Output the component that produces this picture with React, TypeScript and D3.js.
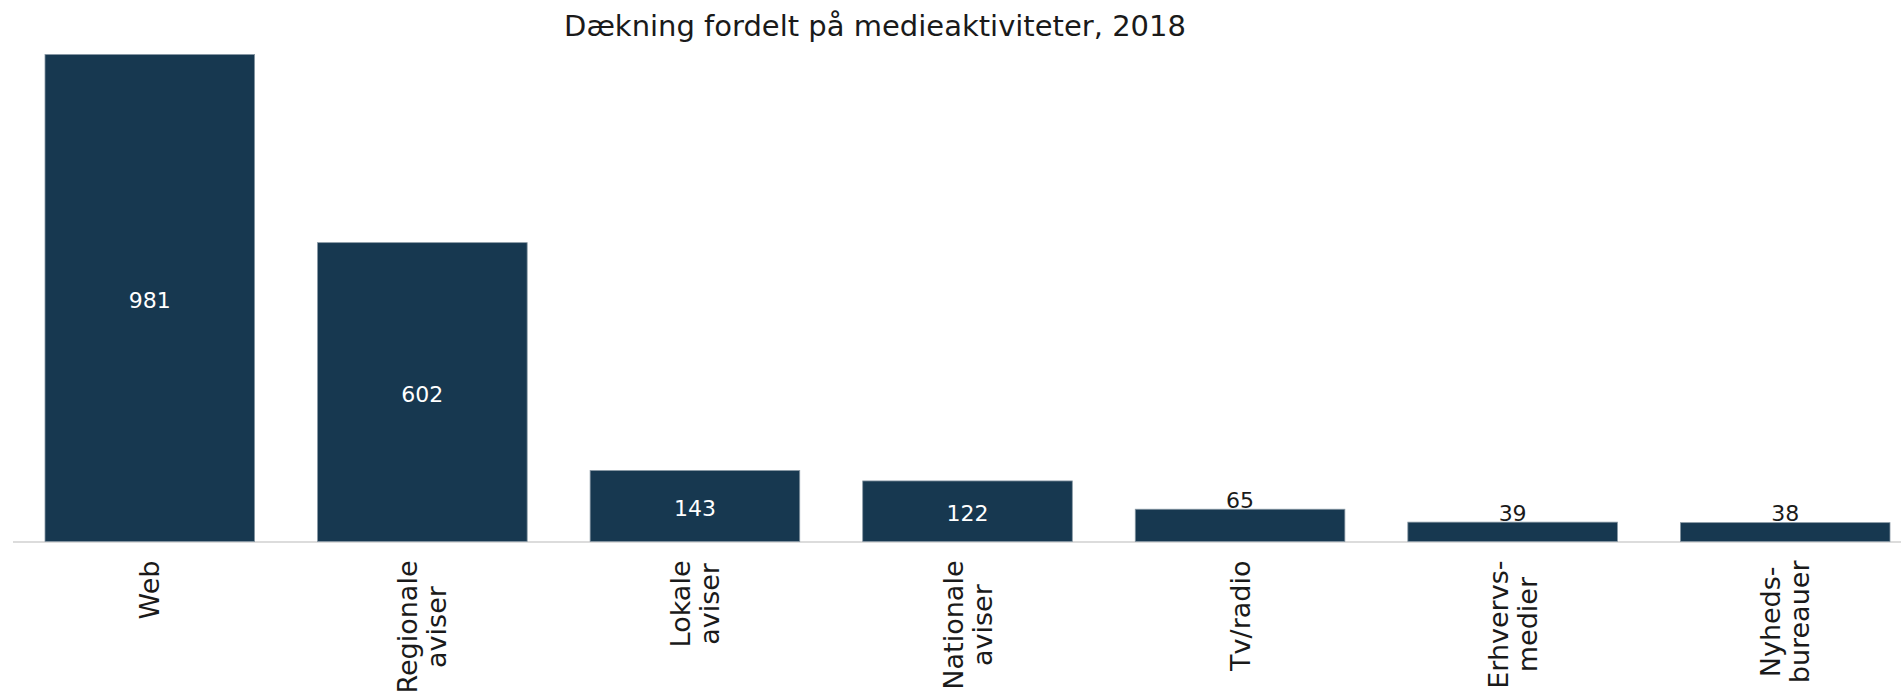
import React, { useEffect, useRef } from "react";
import * as d3 from "d3";

const categories: string[][] = [
  ["Web"],
  ["Regionale", "aviser"],
  ["Lokale", "aviser"],
  ["Nationale", "aviser"],
  ["Tv/radio"],
  ["Erhvervs-", "medier"],
  ["Nyheds-", "bureauer"],
];
const values: number[] = [981, 602, 143, 122, 65, 39, 38];
const title = "Dækning fordelt på medieaktiviteter, 2018";

const W = 1901;
const H = 695;
const FONT = "'DejaVu Sans', sans-serif";
const BAR = "#173850";

export default function App() {
  const ref = useRef<SVGSVGElement | null>(null);

  useEffect(() => {
    const svg = d3.select(ref.current);
    svg.selectAll("*").remove();

    const keys = categories.map((c) => c.join(" "));
    const x = d3
      .scaleBand<string>()
      .domain(keys)
      .range([45, 1890])
      .paddingInner(0.231)
      .paddingOuter(0);
    const y = d3.scaleLinear().domain([0, 981]).range([541.5, 54.5]);

    // title
    svg
      .append("text")
      .attr("x", 875)
      .attr("y", 36)
      .attr("text-anchor", "middle")
      .attr("font-family", FONT)
      .attr("font-size", 29)
      .attr("fill", "#1a1a1a")
      .text(title);

    // baseline
    svg
      .append("line")
      .attr("x1", 13)
      .attr("x2", W)
      .attr("y1", y(0) + 0.5)
      .attr("y2", y(0) + 0.5)
      .attr("stroke", "#dcdcdc")
      .attr("stroke-width", 2);

    // bars
    svg
      .append("g")
      .selectAll("rect")
      .data(values)
      .join("rect")
      .attr("x", (_, i) => x(keys[i])!)
      .attr("width", x.bandwidth())
      .attr("y", (d) => y(d))
      .attr("height", (d) => y(0) - y(d))
      .attr("fill", BAR)
      .attr("stroke", "#8797a3")
      .attr("stroke-width", 0.8);

    // value labels
    svg
      .append("g")
      .selectAll("text")
      .data(values)
      .join("text")
      .attr("x", (_, i) => x(keys[i])! + x.bandwidth() / 2)
      .attr("y", (d) => (d >= 100 ? (y(d) + y(0)) / 2 + 2 : y(d) - 9))
      .attr("text-anchor", "middle")
      .attr("dominant-baseline", "central")
      .attr("font-family", FONT)
      .attr("font-size", 22)
      .attr("fill", (d) => (d >= 100 ? "#ffffff" : "#1a1a1a"))
      .text((d) => d3.format("d")(d));

    // category labels (rotated, multi-line, lines centered, block top-aligned)
    const top = 560.5;
    const lineH = 29;
    const gAxis = svg.append("g");
    categories.forEach((lines, i) => {
      const cx = x(keys[i])! + x.bandwidth() / 2;
      const g = gAxis.append("g");
      const texts = lines.map((ln) =>
        g
          .append("text")
          .attr("font-family", FONT)
          .attr("font-size", 27)
          .attr("fill", "#1a1a1a")
          .attr("text-anchor", "middle")
          .attr("dominant-baseline", "central")
          .text(ln)
      );
      const maxW = d3.max(texts, (t) => (t.node() as SVGTextElement).getComputedTextLength()) || 0;
      const cy = top + maxW / 2;
      texts.forEach((t, j) => {
        const lx = cx + (j - (lines.length - 1) / 2) * lineH;
        t.attr("transform", `translate(${lx},${cy}) rotate(-90)`);
      });
    });
  }, []);

  return (
    <svg
      ref={ref}
      width={W}
      height={H}
      style={{ position: "absolute", left: 0, top: 0, background: "#ffffff" }}
    />
  );
}
